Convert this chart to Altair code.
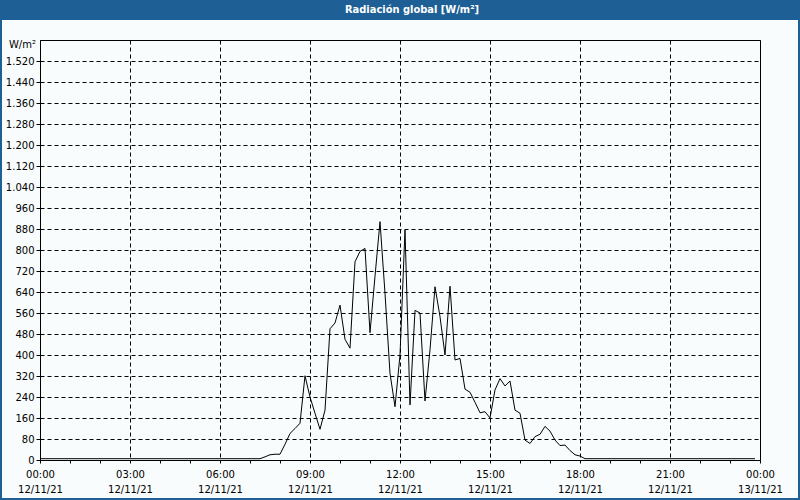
import altair as alt
import pandas as pd

# ---- data ----
times = ["00:00", "07:20", "07:30", "07:40", "07:50", "08:00", "08:10", "08:20", "08:30",
         "08:40", "08:50", "09:00", "09:10", "09:20", "09:30", "09:40", "09:50", "10:00",
         "10:10", "10:20", "10:30", "10:40", "10:50", "11:00", "11:10", "11:20", "11:30",
         "11:40", "11:50", "12:00", "12:10", "12:20", "12:30", "12:40", "12:50", "13:00",
         "13:10", "13:20", "13:30", "13:40", "13:50", "14:00", "14:10", "14:20", "14:30",
         "14:40", "14:50", "15:00", "15:10", "15:20", "15:30", "15:40", "15:50", "16:00",
         "16:10", "16:20", "16:30", "16:40", "16:50", "17:00", "17:10", "17:20", "17:30",
         "17:40", "17:50", "18:00", "18:10", "23:50"]
values = [5, 5, 12, 20, 22, 22, 60, 101, 120,
          140, 321, 240, 178, 117, 190, 500, 522, 590,
          460, 426, 755, 795, 806, 485, 700, 908, 635,
          330, 203, 400, 876, 210, 570, 560, 225, 420,
          660, 546, 400, 662, 381, 387, 270, 258, 220,
          180, 184, 160, 267, 310, 282, 301, 190, 178,
          76, 63, 89, 98, 128, 110, 76, 55, 57,
          36, 20, 15, 5, 5]
title_text = ["Radiación global [W/m²]"]
unit_text = ["W/m²"]
y_ticks = list(range(0, 1521, 80))
x_ticks = list(range(0, 25))

def to_hours(s):
    h, m = s.split(":")
    return int(h) + int(m) / 60.0

df = pd.DataFrame({"hour": [to_hours(t) for t in times], "value": values})

BLUE = "#1E6096"
FONT = "DejaVu Sans"

x_label_expr = ("datum.value % 3 == 0 ? [(datum.value % 24 < 10 ? '0' : '') + (datum.value % 24) + ':00', "
                "datum.value < 24 ? '12/11/21' : '13/11/21'] : ''")

line = alt.Chart(df).mark_line(color="black", strokeWidth=1, clip=True).encode(
    x=alt.X("hour:Q",
            scale=alt.Scale(domain=[0, 24], nice=False, zero=False),
            axis=alt.Axis(values=x_ticks, title=None, grid=True, gridColor="black",
                          gridDash=[4, 3], gridWidth=1,
                          gridOpacity=alt.condition("datum.value % 3 == 0", alt.value(1), alt.value(0)),
                          labelExpr=x_label_expr, labelOverlap=False, labelFlush=False,
                          labelFont=FONT, labelFontSize=10, labelColor="black",
                          labelLineHeight=15, labelPadding=6,
                          tickSize=3, tickColor="black", domainColor="black")),
    y=alt.Y("value:Q",
            scale=alt.Scale(domain=[0, 1600], nice=False),
            axis=alt.Axis(values=y_ticks, title=None, grid=True, gridColor="black",
                          gridDash=[4, 3], gridWidth=1,
                          labelExpr="replace(format(datum.value, ','), ',', '.')",
                          labelFont=FONT, labelFontSize=10, labelColor="black",
                          labelPadding=2, tickSize=4, tickColor="black",
                          domainColor="black")),
)

title_df = pd.DataFrame({"t": title_text})
bar = alt.Chart(title_df).mark_rect(color=BLUE).encode(
    x=alt.value(-40), x2=alt.value(760), y=alt.value(-40), y2=alt.value(-20))
title = alt.Chart(title_df).mark_text(color="white", font="DejaVu Sans Condensed",
                                       fontWeight="bold", fontSize=11, align="center",
                                       baseline="middle").encode(
    x=alt.value(372), y=alt.value(-30), text="t:N")
border = alt.Chart(title_df).mark_rect(filled=False, stroke=BLUE, strokeWidth=2).encode(
    x=alt.value(-39), x2=alt.value(759), y=alt.value(-39), y2=alt.value(459))
unit = alt.Chart(pd.DataFrame({"u": unit_text})).mark_text(
    color="black", font=FONT, fontSize=10, align="right", baseline="middle").encode(
    x=alt.value(-4), y=alt.value(5), text="u:N")

chart = alt.layer(bar, border, title, unit, line).properties(
    width=720, height=420,
    autosize=alt.AutoSizeParams(type="none"),
    padding={"left": 40, "top": 40, "right": 40, "bottom": 40},
    background="#F8FCFC",
).configure_view(stroke="black", strokeWidth=1)

chart.save("out.html", embed_options={"renderer": "svg", "actions": False})
